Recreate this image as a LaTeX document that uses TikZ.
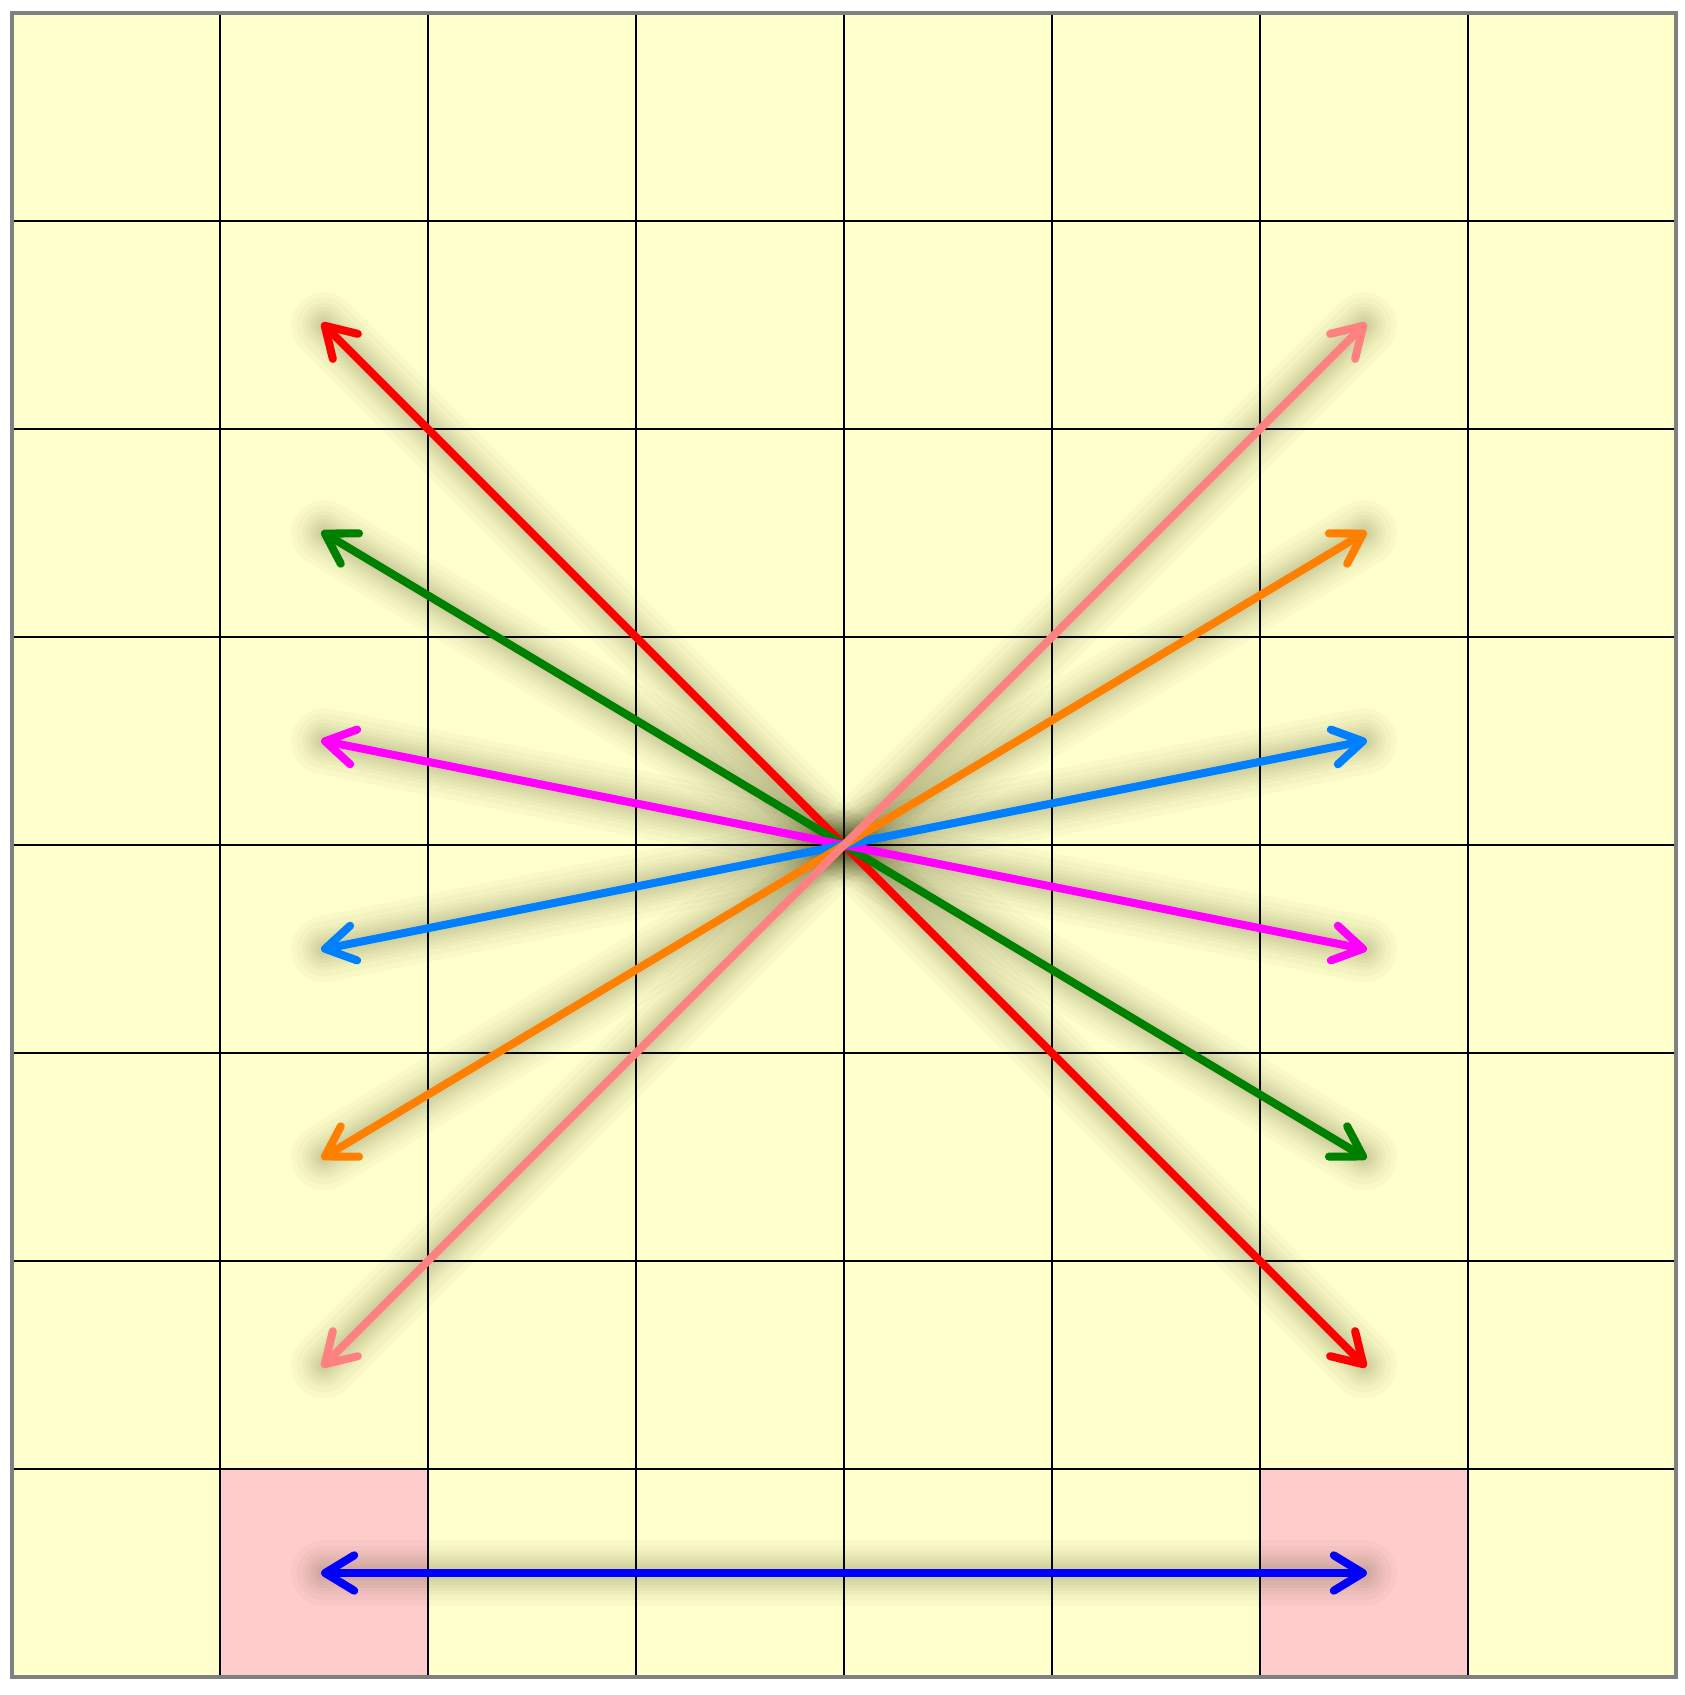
\documentclass[tikz,border=0pt]{standalone}
\usetikzlibrary{arrows.meta}
\definecolor{bgyellow}{HTML}{FFFFCC}
\definecolor{cellpink}{HTML}{FFCCCC}
\definecolor{skyblue}{HTML}{0080FF}
\definecolor{salmonc}{HTML}{FF8080}
\definecolor{darkgreenc}{HTML}{008000}
\definecolor{orangec}{HTML}{FF8000}
\definecolor{magentac}{HTML}{FF00FF}
\definecolor{redc}{HTML}{FF0000}
\definecolor{bluec}{HTML}{0000FF}
\definecolor{glowc}{HTML}{303000}
\tikzset{
  gridline/.style={draw=black, line width=0.3pt},
  frameline/.style={draw=black!50, line width=0.5pt},
  pinkcell/.style={fill=cellpink},
  barbtip/.tip={Straight Barb[length=1.4mm,width=1.7mm,line cap=round,line join=round]},
  arrowline/.style={line width=1.1pt, line cap=round, barbtip-barbtip, shorten <=-0.4pt, shorten >=-0.4pt},
  glowlayer/.style={draw=glowc, line cap=round, opacity=0.028},
}
\newcommand{\glowpath}[2]{%
  \foreach \w in {9pt,7.5pt,6pt,5pt,4pt,3.2pt,2.5pt,1.8pt}{%
    \draw[glowlayer, line width=\w] (#1) -- (#2);
  }%
}
\begin{document}
\begin{tikzpicture}
\useasboundingbox (-0.0577,-0.0865) rectangle (8.043,8.0625);
% background
\fill[bgyellow] (0,0) rectangle (8,8);
\fill[pinkcell] (1,0) rectangle (2,1);
\fill[pinkcell] (6,0) rectangle (7,1);
\draw[gridline] (0,0) grid (8,8);
\draw[frameline] (0,0) rectangle (8,8);
% end points
\coordinate (O) at (4,4);
\coordinate (R1) at (1.5,6.5); \coordinate (R2) at (6.5,1.5);
\coordinate (G1) at (1.5,5.5); \coordinate (G2) at (6.5,2.5);
\coordinate (M1) at (1.5,4.5); \coordinate (M2) at (6.5,3.5);
\coordinate (S1) at (1.5,3.5); \coordinate (S2) at (6.5,4.5);
\coordinate (A1) at (1.5,2.5); \coordinate (A2) at (6.5,5.5);
\coordinate (P1) at (1.5,1.5); \coordinate (P2) at (6.5,6.5);
\coordinate (B1) at (1.5,0.5); \coordinate (B2) at (6.5,0.5);
% glow shadows
\glowpath{R1}{R2}
\glowpath{G1}{G2}
\glowpath{M1}{M2}
\glowpath{S1}{S2}
\glowpath{A1}{A2}
\glowpath{P1}{P2}
\glowpath{B1}{B2}
% arrows
\draw[arrowline, redc] (R1) -- (R2);
\draw[arrowline, darkgreenc] (G1) -- (G2);
\draw[arrowline, magentac] (M1) -- (M2);
\draw[arrowline, skyblue] (S1) -- (S2);
\draw[arrowline, orangec] (A1) -- (A2);
\draw[arrowline, salmonc] (P1) -- (P2);
\draw[arrowline, bluec] (B1) -- (B2);
\end{tikzpicture}
\end{document}
